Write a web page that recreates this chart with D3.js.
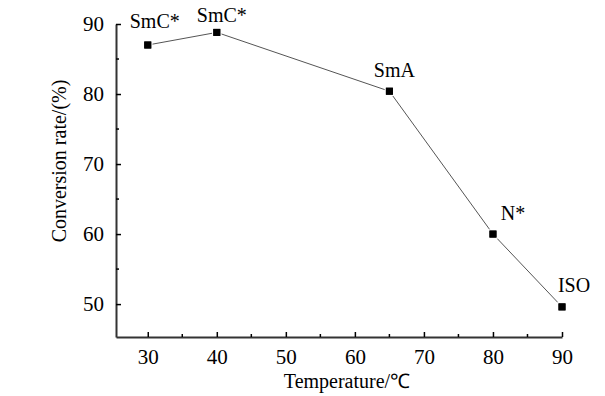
<!DOCTYPE html>
<html>
<head>
<meta charset="utf-8">
<script src="https://cdnjs.cloudflare.com/ajax/libs/d3/7.8.5/d3.min.js"></script>
<style>
  html, body { margin: 0; padding: 0; background: #fff; }
  svg { display: block; }
</style>
</head>
<body>
<svg id="chart" width="605" height="396"></svg>
<script>
const temperatures = [30, 40, 65, 80, 90];
const conversion = [87.0, 88.8, 80.4, 60.0, 49.6];
const phases = ["SmC*", "SmC*", "SmA", "N*", "ISO"];
const xTicks = [30, 40, 50, 60, 70, 80, 90];
const yTicks = [50, 60, 70, 80, 90];
const xMinor = [35, 45, 55, 65, 75, 85];
const yMinor = [55, 65, 75, 85];
const labelOffsets = [[7, -17], [5, -10], [5, -14], [20, -14], [12, -15]];

const FONT = "'Liberation Serif', 'Times New Roman', Times, serif";

const svg = d3.select("#chart");
const x = d3.scaleLinear().domain([25.4, 90]).range([116, 562]);
const y = d3.scaleLinear().domain([45.3, 90]).range([337, 24]);

const data = temperatures.map((t, i) => ({t, v: conversion[i], p: phases[i], o: labelOffsets[i]}));

svg.append("path")
  .datum(data)
  .attr("fill", "none")
  .attr("stroke", "#555")
  .attr("stroke-width", 1)
  .attr("d", d3.line().x(d => x(d.t)).y(d => y(d.v)));

svg.selectAll("rect.marker")
  .data(data)
  .enter().append("rect")
  .attr("class", "marker")
  .attr("x", d => x(d.t) - 3.5)
  .attr("y", d => y(d.v) - 3.5)
  .attr("width", 7)
  .attr("height", 7)
  .attr("fill", "#000")
  .attr("stroke", "#fff")
  .attr("stroke-width", 2.5)
  .attr("paint-order", "stroke");

svg.selectAll("rect.markerfill")
  .data(data)
  .enter().append("rect")
  .attr("x", d => x(d.t) - 3.5)
  .attr("y", d => y(d.v) - 3.5)
  .attr("width", 7)
  .attr("height", 7)
  .attr("fill", "#000");

svg.selectAll("text.phase")
  .data(data)
  .enter().append("text")
  .attr("class", "phase")
  .attr("x", d => x(d.t) + d.o[0])
  .attr("y", d => y(d.v) + d.o[1])
  .attr("text-anchor", "middle")
  .attr("font-family", FONT)
  .attr("font-size", 20)
  .attr("fill", "#000")
  .text(d => d.p);

const xAxis = svg.append("g").attr("transform", "translate(0,337)")
  .call(d3.axisBottom(x).tickValues(xTicks).tickSizeInner(-5).tickSizeOuter(0).tickPadding(12));
const yAxis = svg.append("g").attr("transform", "translate(116,0)")
  .call(d3.axisLeft(y).tickValues(yTicks).tickSizeInner(-5).tickSizeOuter(0).tickPadding(12));

[xAxis, yAxis].forEach(g => {
  g.attr("font-family", FONT).attr("font-size", 21);
  g.select(".domain").attr("stroke", "#333").attr("stroke-width", 2);
  g.selectAll(".tick line").attr("stroke", "#000").attr("stroke-width", 1.5);
  g.selectAll(".tick text").attr("fill", "#000");
});

xAxis.selectAll("line.minor").data(xMinor).enter().append("line")
  .attr("x1", d => x(d)).attr("x2", d => x(d))
  .attr("y1", 0).attr("y2", -3)
  .attr("stroke", "#000").attr("stroke-width", 1.5);
yAxis.selectAll("line.minor").data(yMinor).enter().append("line")
  .attr("y1", d => y(d)).attr("y2", d => y(d))
  .attr("x1", 0).attr("x2", 3)
  .attr("stroke", "#000").attr("stroke-width", 1.5);

svg.append("text")
  .attr("x", 347).attr("y", 388)
  .attr("text-anchor", "middle")
  .attr("font-family", FONT)
  .attr("font-size", 20)
  .text("Temperature/℃");
svg.append("text")
  .attr("transform", "translate(66,161) rotate(-90)")
  .attr("text-anchor", "middle")
  .attr("font-family", FONT)
  .attr("font-size", 20)
  .text("Conversion rate/(%)");
</script>
</body>
</html>
